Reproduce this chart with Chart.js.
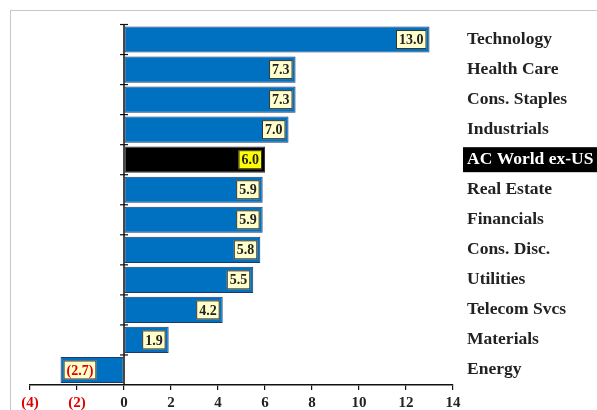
<!DOCTYPE html>
<html>
<head>
<meta charset="utf-8">
<script src="https://cdn.jsdelivr.net/npm/chart.js@4.4.0/dist/chart.umd.min.js"></script>
<style>
  html, body { margin: 0; padding: 0; background: #fff; }
  .wrap { position: relative; width: 597px; height: 410px; overflow: hidden; }
  .frame { position: absolute; left: 10px; top: 10px; width: 700px; height: 500px; border-top: 1px solid #c8c8c8; border-left: 1px solid #c8c8c8; }
  canvas { position: absolute; left: 0; top: 0; }
</style>
</head>
<body>
<div class="wrap">
  <div class="frame"></div>
  <canvas id="chart" width="597" height="410"></canvas>
</div>
<script>
const sectors = ['Technology', 'Health Care', 'Cons. Staples', 'Industrials', 'AC World ex-US',
  'Real Estate', 'Financials', 'Cons. Disc.', 'Utilities', 'Telecom Svcs', 'Materials', 'Energy'];
const returns = [13.0, 7.3, 7.3, 7.0, 6.0, 5.9, 5.9, 5.8, 5.5, 4.2, 1.9, -2.7];
const benchmarkIndex = 4;
const xTicks = [-4, -2, 0, 2, 4, 6, 8, 10, 12, 14];

const serif = "'Liberation Serif', 'Times New Roman', serif";

// zero line + category boundary ticks, and value boxes
const overlay = {
  id: 'overlay',
  afterDatasetsDraw(chart) {
    const { ctx, scales: { x, y }, chartArea } = chart;
    const x0 = x.getPixelForValue(0);
    const slot = Math.abs(y.getPixelForValue(1) - y.getPixelForValue(0));
    ctx.save();
    ctx.strokeStyle = '#111';
    ctx.lineWidth = 1.5;
    ctx.beginPath();
    ctx.moveTo(x0, chartArea.top);
    ctx.lineTo(x0, chartArea.bottom);
    ctx.stroke();
    ctx.lineWidth = 1.2;
    for (let i = 0; i < sectors.length; i++) {
      const yb = y.getPixelForValue(i) - slot / 2;
      ctx.beginPath();
      ctx.moveTo(x0 - 4, yb);
      ctx.lineTo(x0 + 4, yb);
      ctx.stroke();
    }

    const meta = chart.getDatasetMeta(0);
    ctx.font = 'bold 14px ' + serif;
    ctx.textBaseline = 'middle';
    meta.data.forEach((bar, i) => {
      const v = returns[i];
      const txt = v < 0 ? '(' + Math.abs(v).toFixed(1) + ')' : v.toFixed(1);
      const w = ctx.measureText(txt).width + 6;
      const h = 19;
      const bx = v < 0 ? bar.x + 3 : bar.x - 3 - w;
      const by = bar.y - h / 2;
      ctx.fillStyle = i === benchmarkIndex ? '#ffff00' : '#ffffcc';
      ctx.fillRect(bx, by, w, h);
      ctx.strokeStyle = '#333';
      ctx.lineWidth = 1;
      ctx.strokeRect(bx + 0.5, by + 0.5, w - 1, h - 1);
      ctx.fillStyle = v < 0 ? '#e00000' : '#222';
      ctx.textAlign = 'center';
      ctx.fillText(txt, bx + w / 2, bar.y + 1);
    });
    ctx.restore();
  }
};

new Chart(document.getElementById('chart'), {
  type: 'bar',
  data: {
    labels: sectors,
    datasets: [{
      data: returns,
      backgroundColor: returns.map((v, i) => i === benchmarkIndex ? '#000000' : '#0070c0'),
      borderColor: returns.map((v, i) => i === benchmarkIndex ? '#333333' : '#1f3864'),
      borderWidth: 1,
      borderSkipped: false,
      categoryPercentage: 1,
      barPercentage: 0.87
    }]
  },
  options: {
    indexAxis: 'y',
    responsive: false,
    animation: false,
    layout: { padding: { left: 30, top: 24, right: 0, bottom: 0 } },
    plugins: { legend: { display: false }, tooltip: { enabled: false } },
    scales: {
      x: {
        min: -4, max: 14,
        afterBuildTicks: s => { s.ticks = xTicks.map(v => ({ value: v })); },
        afterFit: s => { s.height = 25; },
        border: { display: true, color: '#111', width: 1.5 },
        grid: { drawOnChartArea: false, drawTicks: true, tickLength: 5, color: '#111', lineWidth: 1.2 },
        ticks: {
          padding: 4,
          font: { family: serif, size: 15, weight: 'bold' },
          color: c => c.tick.value < 0 ? '#e00000' : '#222',
          callback: v => v < 0 ? '(' + Math.abs(v) + ')' : String(v)
        }
      },
      y: {
        position: 'right',
        afterFit: s => { s.width = 144; },
        border: { display: false },
        grid: { display: false, drawTicks: false },
        ticks: {
          crossAlign: 'near',
          padding: 14,
          font: { family: serif, size: 17.5, weight: 'bold' },
          color: c => c.index === benchmarkIndex ? '#ffffff' : '#222',
          showLabelBackdrop: c => c.index === benchmarkIndex,
          backdropColor: '#000000',
          backdropPadding: { left: 4, right: 4, top: 2, bottom: 2 }
        }
      }
    }
  },
  plugins: [overlay]
});
</script>
</body>
</html>
